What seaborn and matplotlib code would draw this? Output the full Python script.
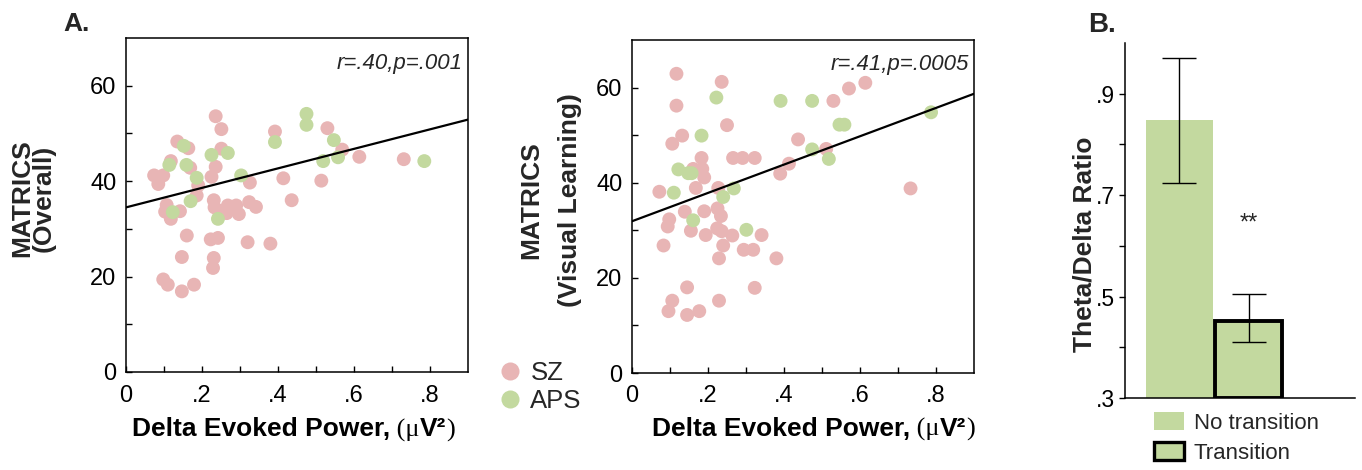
import numpy as np
import pandas as pd
import seaborn as sns
import matplotlib.pyplot as plt
from matplotlib.lines import Line2D
from matplotlib.patches import Patch
from matplotlib.offsetbox import TextArea, HPacker, AnchoredOffsetbox

# --- panel A, left: MATRICS overall vs delta evoked power
sz_power_overall = [0.236, 0.251, 0.135, 0.164, 0.251, 0.392, 0.530, 0.569, 0.614, 0.731,
                    0.118, 0.169, 0.236, 0.225, 0.074, 0.098, 0.085, 0.190, 0.186, 0.326,
                    0.414, 0.514, 0.436, 0.231, 0.233, 0.268, 0.290, 0.297, 0.265, 0.324,
                    0.342, 0.107, 0.103, 0.118, 0.142, 0.244, 0.160, 0.223, 0.242, 0.320,
                    0.380, 0.147, 0.231, 0.229, 0.098, 0.110, 0.179, 0.147]
sz_overall = [53.6, 50.9, 48.3, 46.9, 46.8, 50.4, 51.1, 46.6, 45.1, 44.6,
              44.2, 42.8, 43.0, 40.9, 41.2, 41.2, 39.4, 39.1, 37.0, 39.7,
              40.6, 40.1, 36.0, 36.0, 34.5, 34.9, 34.9, 33.1, 33.3, 35.6,
              34.6, 35.0, 33.6, 32.1, 33.7, 33.8, 28.6, 27.8, 28.1, 27.2,
              26.9, 24.1, 23.9, 21.8, 19.4, 18.3, 18.3, 16.9]
aps_power_overall = [0.475, 0.475, 0.392, 0.547, 0.152, 0.225, 0.268, 0.114, 0.159,
                     0.186, 0.303, 0.519, 0.558, 0.785, 0.170, 0.123, 0.242]
aps_overall = [54.1, 51.8, 48.2, 48.6, 47.4, 45.5, 45.9, 43.4, 43.4,
               40.7, 41.2, 44.2, 45.0, 44.2, 35.8, 33.5, 32.1]
fit_x_overall = [0.0, 0.9]
fit_y_overall = [34.5, 52.9]

# --- panel A, right: MATRICS visual learning vs delta evoked power
sz_power_visual = [0.117, 0.236, 0.117, 0.250, 0.132, 0.106, 0.183, 0.266, 0.291, 0.323,
                   0.161, 0.185, 0.190, 0.168, 0.072, 0.227, 0.390, 0.413, 0.437, 0.511,
                   0.530, 0.571, 0.614, 0.733, 0.139, 0.190, 0.225, 0.234, 0.098, 0.094,
                   0.155, 0.194, 0.224, 0.236, 0.264, 0.341, 0.083, 0.240, 0.294, 0.319,
                   0.229, 0.380, 0.145, 0.323, 0.106, 0.229, 0.096, 0.177, 0.145]
sz_visual = [62.9, 61.2, 56.2, 52.1, 49.9, 48.2, 45.2, 45.2, 45.2, 45.2,
             42.9, 42.9, 41.1, 38.9, 38.1, 38.9, 41.9, 44.0, 49.1, 47.1,
             57.2, 59.8, 61.0, 38.8, 33.9, 34.0, 34.6, 33.0, 32.3, 30.8,
             29.9, 29.0, 30.4, 29.8, 28.9, 29.0, 26.8, 26.8, 25.9, 25.9,
             24.1, 24.1, 18.0, 17.9, 15.2, 15.2, 13.0, 13.0, 12.2]
aps_power_visual = [0.222, 0.391, 0.474, 0.546, 0.559, 0.787, 0.183, 0.474, 0.518,
                    0.122, 0.148, 0.157, 0.110, 0.268, 0.240, 0.161, 0.301]
aps_visual = [57.9, 57.2, 57.2, 52.2, 52.2, 54.8, 49.9, 47.0, 45.0,
              42.8, 42.0, 42.0, 37.9, 38.8, 37.0, 32.1, 30.1]
fit_x_visual = [0.0, 0.9]
fit_y_visual = [31.9, 58.7]

power_ticks = [0.0, 0.1, 0.2, 0.3, 0.4, 0.5, 0.6, 0.7, 0.8]
power_ticklabels = ["0", "", ".2", "", ".4", "", ".6", "", ".8"]
score_ticks = [0, 10, 20, 30, 40, 50, 60]
score_ticklabels = ["0", "", "20", "", "40", "", "60"]

# --- panel B: theta/delta ratio
groups = ["No transition", "Transition"]
ratio_mean = [0.848, 0.451]
ratio_err_low = [0.125, 0.041]
ratio_err_high = [0.123, 0.054]
ratio_ticks = [0.3, 0.4, 0.5, 0.6, 0.7, 0.8, 0.9]
ratio_ticklabels = [".3", "", ".5", "", ".7", "", ".9"]

pink = "#e8b5b5"
green = "#c3d99f"

sns.set_theme(style="white")
plt.rcParams["font.family"] = ["Liberation Sans", "DejaVu Sans"]

W, H = 1362, 470
fig = plt.figure(figsize=(W / 100, H / 100), dpi=100)


def px_axes(x0, y0, x1, y1):
    return fig.add_axes([x0 / W, 1 - y1 / H, (x1 - x0) / W, (y1 - y0) / H])


def power_label(ax, cx, top):
    big = dict(fontsize=19, fontweight="bold", family="Liberation Sans", color="black")
    serif = dict(fontsize=19, family="Liberation Serif", color="black")
    parts = [TextArea("Delta Evoked Power,", textprops=big),
             TextArea(" (\u03bc", textprops=serif),
             TextArea("V\u00b2", textprops=big),
             TextArea(")", textprops=serif)]
    box = HPacker(children=parts, align="baseline", pad=0, sep=0)
    ab = AnchoredOffsetbox(loc="upper center", child=box, frameon=False, pad=0,
                           borderpad=0, bbox_to_anchor=(cx, top),
                           bbox_transform=ax.transAxes)
    ax.add_artist(ab)


def scatter_panel(ax, sz_x, sz_y, aps_x, aps_y, fit_x, fit_y, ylabel, stat,
                  label_x, linespacing):
    df = pd.DataFrame({
        "power": sz_x + aps_x,
        "score": sz_y + aps_y,
        "group": ["SZ"] * len(sz_x) + ["APS"] * len(aps_x),
    })
    sns.scatterplot(data=df, x="power", y="score", hue="group",
                    palette={"SZ": pink, "APS": green}, s=100, linewidth=0,
                    alpha=1, legend=False, ax=ax, zorder=2)
    sns.lineplot(x=fit_x, y=fit_y, color="black", lw=1.6, ax=ax, zorder=3)
    ax.set_xlim(0, 0.9)
    ax.set_ylim(0, 70)
    ax.set_xticks(power_ticks, labels=power_ticklabels)
    ax.set_yticks(score_ticks, labels=score_ticklabels)
    ax.tick_params(direction="in", length=4, width=1, colors="black",
                   labelsize=17, left=True, bottom=True)
    ax.tick_params(axis="x", pad=9)
    ax.tick_params(axis="y", pad=7)
    for sp in ax.spines.values():
        sp.set_color("black")
        sp.set_linewidth(1.1)
    ax.set_xlabel("")
    ax.set_ylabel(ylabel, fontsize=19, fontweight="bold", linespacing=linespacing)
    ax.yaxis.set_label_coords(label_x, 0.52)
    ax.text(0.985, 0.925, stat, transform=ax.transAxes, fontsize=16,
            style="italic", ha="right", va="center")


ax1 = px_axes(126, 38, 468, 372)
scatter_panel(ax1, sz_power_overall, sz_overall, aps_power_overall, aps_overall,
              fit_x_overall, fit_y_overall, "MATRICS\n(Overall)", "r=.40,p=.001",
              -0.205, 0.9)
power_label(ax1, 0.49, -0.135)

ax2 = px_axes(632, 40, 974, 373)
scatter_panel(ax2, sz_power_visual, sz_visual, aps_power_visual, aps_visual,
              fit_x_visual, fit_y_visual, "MATRICS\n(Visual Learning)",
              "r=.41,p=.0005", -0.145, 1.8)
power_label(ax2, 0.53, -0.131)

fig.legend(handles=[Line2D([], [], ls="", marker="o", ms=13, mfc=pink, mec="none", label="SZ"),
                    Line2D([], [], ls="", marker="o", ms=13, mfc=green, mec="none", label="APS")],
           loc="center left", bbox_to_anchor=(497 / W, 1 - 387 / H), frameon=False,
           fontsize=18.5, handlelength=1.0, handletextpad=0.3, labelspacing=0.12,
           borderpad=0, borderaxespad=0)

# --- panel B
axB = px_axes(1125, 43, 1355, 398)
bars = pd.DataFrame({"group": groups, "ratio": ratio_mean})
sns.barplot(data=bars, x="group", y="ratio", hue="group", palette=[green, green],
            width=0.965, legend=False, ax=axB, saturation=1)
axB.set_ylim(0.3, 1.0)
for p, m in zip(axB.patches, ratio_mean):
    p.set_y(0.3)
    p.set_height(m - 0.3)
axB.patches[1].set_edgecolor("black")
axB.patches[1].set_linewidth(2.8)
axB.patches[0].set_linewidth(0)
axB.errorbar(x=[0, 1], y=ratio_mean, yerr=[ratio_err_low, ratio_err_high], fmt="none",
             ecolor="black", elinewidth=1, capsize=12, capthick=1, zorder=4)
axB.text(1, 0.644, "**", ha="center", va="center", fontsize=17)
axB.set_xlim(-0.78, 2.53)
axB.set_xticks([])
axB.set_yticks(ratio_ticks, labels=ratio_ticklabels)
axB.tick_params(axis="y", direction="out", length=4, width=1, colors="black",
                labelsize=16.5, left=True, pad=3)
sns.despine(ax=axB)
for sp in ("left", "bottom"):
    axB.spines[sp].set_color("black")
    axB.spines[sp].set_linewidth(1.1)
axB.set_xlabel("")
axB.set_ylabel("Theta/Delta Ratio", fontsize=19, fontweight="bold")
axB.yaxis.set_label_coords(-0.122, 0.433)

fig.legend(handles=[Patch(facecolor=green, edgecolor="none", label="No transition"),
                    Patch(facecolor=green, edgecolor="black", lw=2.4, label="Transition")],
           loc="center left", bbox_to_anchor=(1154 / W, 1 - 438 / H), frameon=False,
           fontsize=16, handlelength=1.35, handleheight=0.85, handletextpad=0.45,
           labelspacing=0.4, borderpad=0, borderaxespad=0)

fig.text(63 / W, 1 - 31 / H, "A.", fontsize=19, fontweight="bold", va="baseline")
fig.text(1088 / W, 1 - 32 / H, "B.", fontsize=20, fontweight="bold", va="baseline")

fig.savefig("out.png", dpi=100)
